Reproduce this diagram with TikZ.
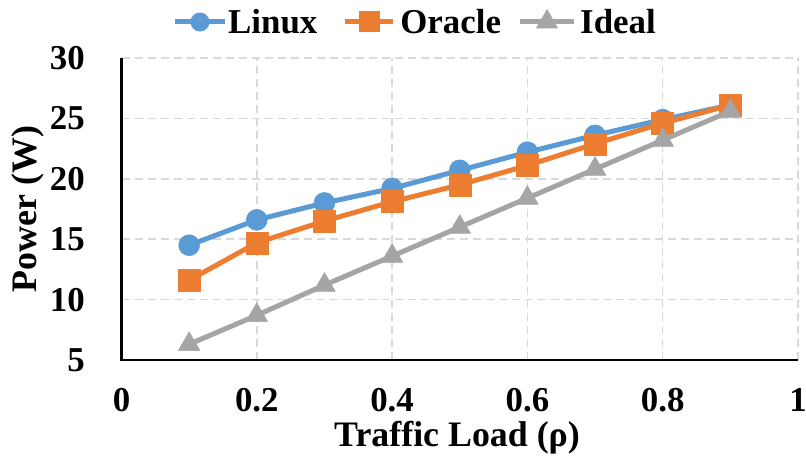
\documentclass[tikz,border=0pt]{standalone}
\usepackage{fontspec}
\setmainfont{Liberation Serif}
\usetikzlibrary{plotmarks,positioning,shapes.geometric}
\definecolor{lnxblue}{HTML}{5B9BD5}
\definecolor{orcorange}{HTML}{ED7D31}
\definecolor{idlgray}{HTML}{A5A5A5}
\definecolor{gridgray}{HTML}{D9D9D9}

\begin{document}
\begin{tikzpicture}[
  x=676.5bp, y=12.08bp,
  gridln/.style={gridgray, line width=1.5bp, dash pattern=on 8bp off 5bp},
  axisln/.style={black, line width=2.6bp},
  series/.style={draw=#1, line width=5bp, line join=round,
                 mark options={solid, draw=#1, fill=#1, line width=0.5bp}},
  ticklbl/.style={font=\fontsize{35}{38}\selectfont\bfseries, inner sep=0pt},
  axlbl/.style={font=\fontsize{36}{40}\selectfont\bfseries, inner sep=0pt},
  keytxt/.style={font=\fontsize{35}{40}\selectfont\bfseries, inner sep=0pt, anchor=west},
  keyln/.style={draw=#1, line width=5bp},
  keydot/.style={circle, fill=#1, inner sep=0pt, minimum size=19bp},
  keysq/.style={rectangle, fill=#1, inner sep=0pt, minimum size=21bp},
  keytri/.style={regular polygon, regular polygon sides=3, fill=#1, inner sep=0pt, minimum size=26bp},
]
\useasboundingbox (-0.1796,-3.94) rectangle (1.0118,34.80);

% Rejilla
\foreach \gx in {0.2,0.4,0.6,0.8,1} \draw[gridln] (\gx,5) -- (\gx,30);
\foreach \gy in {10,15,20,25,30} \draw[gridln] (0,\gy) -- (1,\gy);

% Ejes
\draw[axisln] (0,30) -- (0,5) -- (1,5);
\foreach \gy in {5,10,...,30} \node[ticklbl, anchor=east] (y\gy) at (-0.054,\gy) {\gy};
\foreach \gx/\gt in {0/0,0.2/0.2,0.4/0.4,0.6/0.6,0.8/0.8,1/1}
  \node[ticklbl] (x\gt) at (\gx,1.68) {\gt};
\node[axlbl] (xt) at (0.496,-1.42) {Traffic Load (ρ)};
\node[axlbl, rotate=90] (yt) at (-0.139,17.5) {Power (W)};

% Series
\draw[series=lnxblue] plot[mark=*, mark size=10.5bp] coordinates
  {(0.1,14.5) (0.2,16.6) (0.3,18.0) (0.4,19.2) (0.5,20.7) (0.6,22.2) (0.7,23.6) (0.8,24.9) (0.9,26.1)};
\draw[series=orcorange] plot[mark=square*, mark size=11bp] coordinates
  {(0.1,11.6) (0.2,14.7) (0.3,16.5) (0.4,18.1) (0.5,19.5) (0.6,21.1) (0.7,22.9) (0.8,24.6) (0.9,26.1)};
\draw[series=idlgray] plot[mark=triangle*, mark size=12.5bp] coordinates
  {(0.1,6.3) (0.2,8.7) (0.3,11.2) (0.4,13.6) (0.5,16.0) (0.6,18.4) (0.7,20.8) (0.8,23.2) (0.9,25.6)};

% Leyenda
\coordinate (kL) at (0.116,32.98);
\draw[keyln=lnxblue] ([xshift=-25bp]kL) -- ([xshift=25bp]kL);
\node[keydot=lnxblue] (mkL) at (kL) {};
\node[keytxt, right=28bp of kL] (tL) {Linux};

\coordinate (kO) at (0.366,32.98);
\draw[keyln=orcorange] ([xshift=-24bp]kO) -- ([xshift=24bp]kO);
\node[keysq=orcorange] (mkO) at (kO) {};
\node[keytxt, right=31bp of kO] (tO) {Oracle};

\coordinate (kI) at (0.629,32.98);
\draw[keyln=idlgray] ([xshift=-27bp]kI) -- ([xshift=27bp]kI);
\node[keytri=idlgray] (mkI) at (kI) {};
\node[keytxt, right=33bp of kI] (tI) {Ideal};
\end{tikzpicture}
\end{document}
